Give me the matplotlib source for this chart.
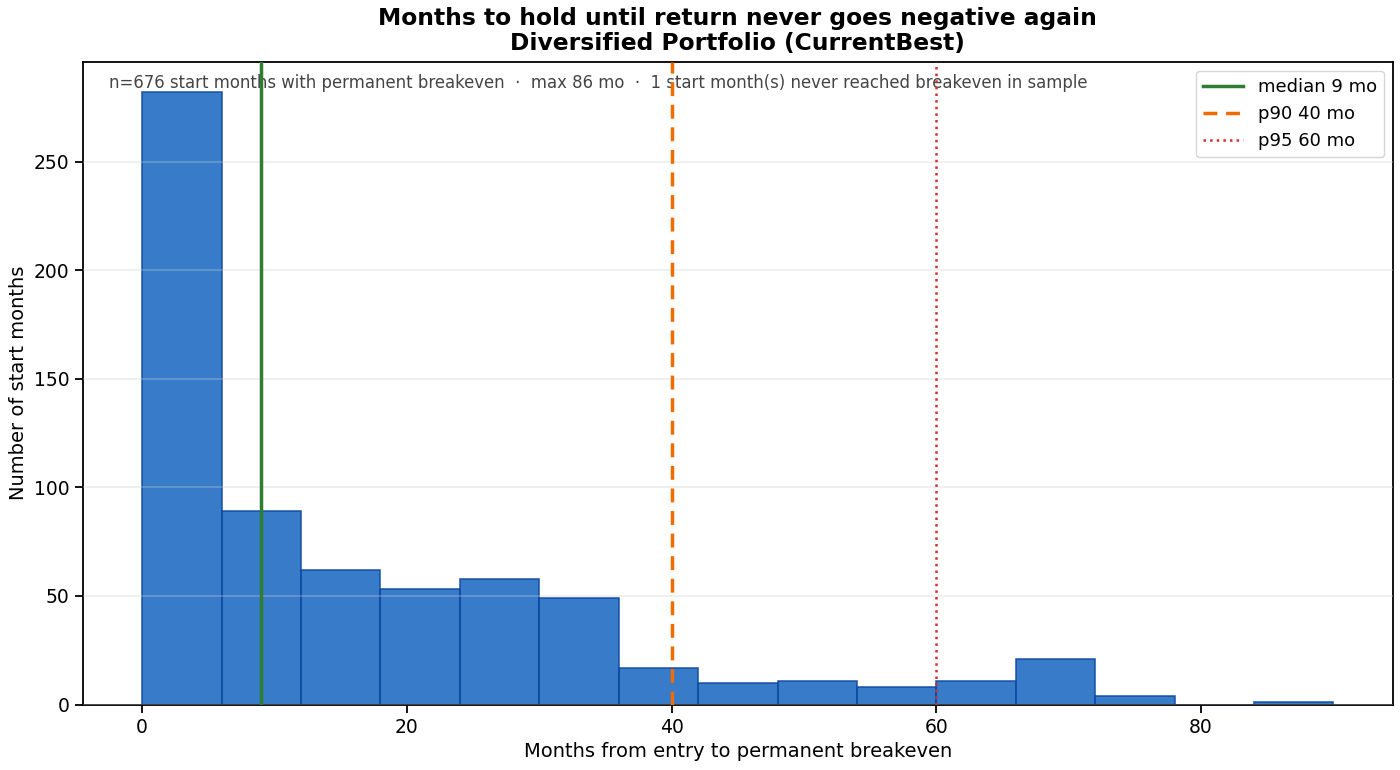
import matplotlib

matplotlib.use("Agg")
import matplotlib.pyplot as plt
import numpy as np

# histogram of months to permanent breakeven (bin width 6 mo)
bin_edges = [0, 6, 12, 18, 24, 30, 36, 42, 48, 54, 60, 66, 72, 78, 84, 90]
counts = [282, 89, 62, 53, 58, 49, 17, 10, 11, 8, 11, 21, 4, 0, 1]

median_mo = 9
p90_mo = 40
p95_mo = 60
n_total = 676
max_mo = 86
never = 1

fig, ax = plt.subplots(figsize=(14, 7.7), dpi=100)

centers = np.array(bin_edges[:-1]) + 3
ax.hist(centers, bins=bin_edges, weights=counts, color="#1565c0", alpha=0.85,
        edgecolor="#0d47a1", linewidth=1.2, zorder=1)

ax.axvline(median_mo, color="#2e7d32", linewidth=2.5, label=f"median {median_mo} mo", zorder=3)
ax.axvline(p90_mo, color="#ef6c00", linewidth=2.5, linestyle=(0, (4, 2.5)), label=f"p90 {p90_mo} mo", zorder=3)
ax.axvline(p95_mo, color="#d32f2f", linewidth=1.8, linestyle=":", label=f"p95 {p95_mo} mo", zorder=3)

ax.set_ylim(0, max(counts) * 1.05)
ax.grid(True, axis="y", color="#cccccc", alpha=0.35, linewidth=1.2, zorder=2)
ax.set_axisbelow(False)
for s in ax.spines.values():
    s.set_linewidth(1.3)
ax.tick_params(labelsize=13.5, length=6, width=1.3)

ax.set_xlabel("Months from entry to permanent breakeven", fontsize=14)
ax.set_ylabel("Number of start months", fontsize=14)
ax.set_title("Months to hold until return never goes negative again\nDiversified Portfolio (CurrentBest)",
             fontsize=16.8, fontweight="bold", linespacing=1.1, pad=8.5)

ax.text(0.02, 0.98,
        f"n={n_total} start months with permanent breakeven  \u00b7  max {max_mo} mo  \u00b7  "
        f"{never} start month(s) never reached breakeven in sample",
        transform=ax.transAxes, ha="left", va="top", fontsize=11.9, color="#444444", zorder=2)

ax.legend(loc="upper right", fontsize=13, handlelength=2.2)

fig.subplots_adjust(left=0.059, right=0.995, top=0.92, bottom=0.085)
fig.savefig("out.png", dpi=100)
